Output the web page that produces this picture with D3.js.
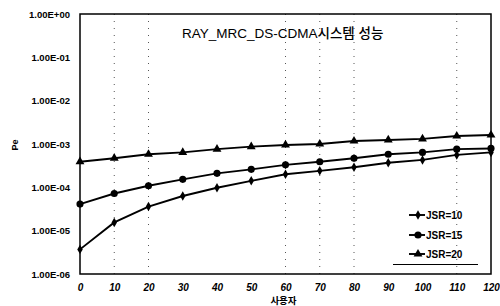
<!DOCTYPE html>
<html>
<head>
<meta charset="utf-8">
<script src="https://cdn.jsdelivr.net/npm/d3@7"></script>
<style>
body{margin:0;background:#fff;}
text{font-family:"Liberation Sans",Arial,"Noto Sans CJK KR",sans-serif;fill:#000;}
</style>
</head>
<body>
<svg id="chart" width="500" height="306"></svg>
<script>
'use strict';

var users=[0,10,20,30,40,50,60,70,80,90,100,110,120];
var jsr10=[3.7e-6,1.55e-5,3.6e-5,6.3e-5,9.8e-5,1.41e-4,2.0e-4,2.4e-4,2.9e-4,3.7e-4,4.3e-4,5.6e-4,6.4e-4];
var jsr15=[4.1e-5,7.2e-5,1.09e-4,1.53e-4,2.1e-4,2.6e-4,3.3e-4,3.9e-4,4.7e-4,5.8e-4,6.4e-4,7.6e-4,7.9e-4];
var jsr20=[3.9e-4,4.7e-4,5.8e-4,6.4e-4,7.6e-4,8.7e-4,9.5e-4,1.0e-3,1.17e-3,1.24e-3,1.31e-3,1.53e-3,1.61e-3];
var seriesNames=['JSR=10','JSR=15','JSR=20'];
var yTicks=[1,1e-1,1e-2,1e-3,1e-4,1e-5,1e-6];
var yTickLabels=['1.00E+00','1.00E-01','1.00E-02','1.00E-03','1.00E-04','1.00E-05','1.00E-06'];
var gridUsers=[10,20,60,70,80,110];

var svg=d3.select('#chart')
  , pLeft=80
  , pRight=491
  , pTop=14
  , pBottom=274;

var x=d3.scaleLinear().domain([0,120]).range([pLeft,pRight]);
var y=d3.scaleLog().domain([1e-6,1]).range([pBottom,pTop]);

// dotted verticals, like the scanned plot
svg.append('g').selectAll('line')
    .data(gridUsers)
    .enter().append('line')
    .attr('x1',function(d){return x(d);})
    .attr('x2',function(d){return x(d);})
    .attr('y1',pTop)
    .attr('y2',pBottom)
    .attr('stroke','#555')
    .attr('stroke-width',1)
    .attr('stroke-dasharray','1,6');

svg.append('rect')
    .attr('x',pLeft)
    .attr('y',pTop)
    .attr('width',pRight-pLeft)
    .attr('height',pBottom-pTop)
    .attr('fill','none')
    .attr('stroke','#000')
    .attr('stroke-width',1.5);

var yAxis=svg.append('g')
    .attr('transform','translate('+pLeft+',0)')
    .call(d3.axisLeft(y).tickValues(yTicks).tickSize(0).tickPadding(10)
        .tickFormat(function(d,i){return yTickLabels[i];}));
yAxis.select('.domain').remove();
yAxis.selectAll('text')
    .attr('font-size','9.5px')
    .attr('font-weight','bold')
    .attr('font-family','"Liberation Sans",Arial,sans-serif');

var xAxis=svg.append('g')
    .attr('transform','translate(0,'+pBottom+')')
    .call(d3.axisBottom(x).tickValues(users).tickSize(0).tickPadding(10).tickFormat(d3.format('d')));
xAxis.select('.domain').remove();
xAxis.selectAll('text')
    .attr('font-size','10px')
    .attr('font-weight','bold')
    .attr('font-style','italic')
    .attr('font-family','"Liberation Sans",Arial,sans-serif');

svg.append('text')
    .attr('x',(pLeft+pRight)/2-2)
    .attr('y',304)
    .attr('text-anchor','middle')
    .attr('font-size','9.5px')
    .attr('font-weight','bold')
    .text('사용자');

svg.append('text')
    .attr('transform','translate(18,145) rotate(-90)')
    .attr('text-anchor','middle')
    .attr('font-size','9px')
    .attr('font-weight','bold')
    .text('Pe');

svg.append('text')
    .attr('x',182)
    .attr('y',38)
    .attr('font-size','13.5px')
    .attr('font-weight',500)
    .text('RAY_MRC_DS-CDMA시스템 성능');

var all=[jsr10,jsr15,jsr20];
var line=d3.line()
    .x(function(d,i){return x(users[i]);})
    .y(function(d){return y(d);});

var symbols=[d3.symbolDiamond,d3.symbolCircle,d3.symbolTriangle];
var sizes=[26,40,34];

function marker(g,k){
    g.append('path')
        .attr('d',d3.symbol().type(symbols[k]).size(sizes[k]))
        .attr('fill','#000');
}

all.forEach(function(s,k){
    svg.append('path')
        .datum(s)
        .attr('d',line)
        .attr('fill','none')
        .attr('stroke','#000')
        .attr('stroke-width',1.9);
    svg.append('g').selectAll('g')
        .data(s)
        .enter().append('g')
        .attr('transform',function(d,i){return 'translate('+x(users[i])+','+y(d)+')';})
        .each(function(){marker(d3.select(this),k);});
});

var legendY=[215,235,254];
seriesNames.forEach(function(name,k){
    var g=svg.append('g').attr('transform','translate(409,'+legendY[k]+')');
    g.append('line')
        .attr('x1',0)
        .attr('x2',16)
        .attr('stroke','#000')
        .attr('stroke-width',1.9);
    var m=g.append('g').attr('transform','translate(9,0)');
    marker(m,k);
    g.append('text')
        .attr('x',17)
        .attr('y',3.5)
        .attr('font-size','10px')
        .attr('font-weight','bold')
        .text(name);
});

svg.append('line')
    .attr('x1',393)
    .attr('x2',478)
    .attr('y1',264.5)
    .attr('y2',264.5)
    .attr('stroke','#000')
    .attr('stroke-width',1);
</script>
</body>
</html>
